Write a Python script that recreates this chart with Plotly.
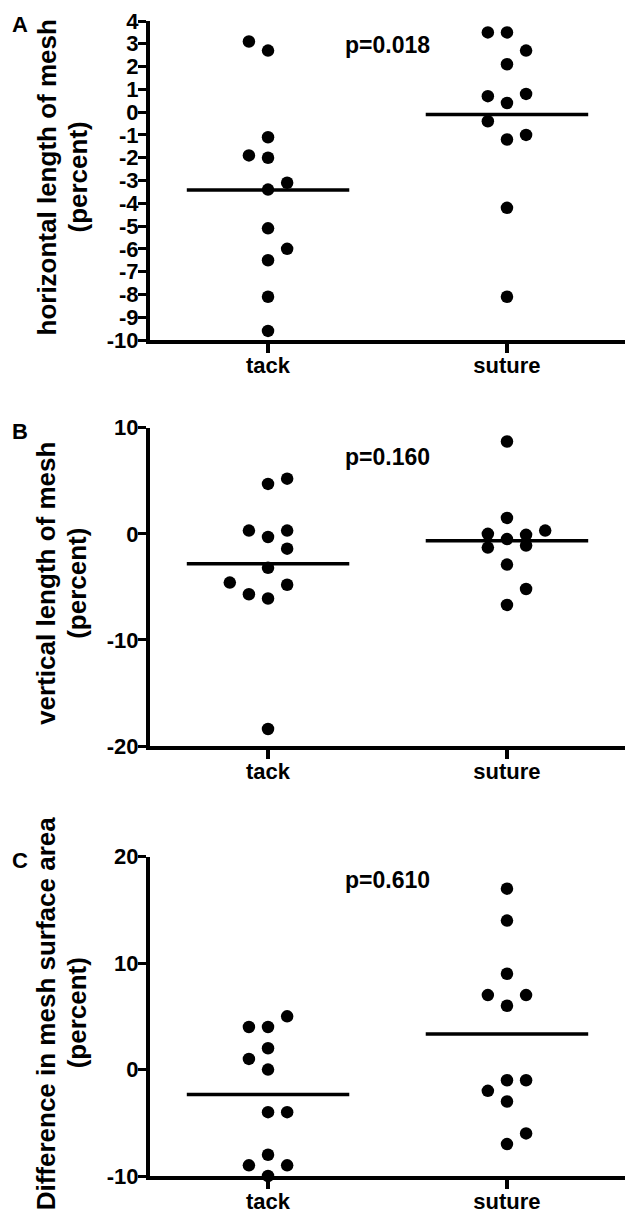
import plotly.graph_objects as go
import numpy as np

# ---------------- data ----------------
categories = ["tack", "suture"]

# Panel A: horizontal length of mesh (percent)
horiz_tack = [3.1, 2.7, -1.1, -1.9, -2.0, -3.1, -3.4, -5.1, -6.0, -6.5, -8.1, -9.6]
horiz_tack_slot = [-1, 0, 0, -1, 0, 1, 0, 0, 1, 0, 0, 0]
horiz_suture = [3.5, 3.5, 2.7, 2.1, 0.7, 0.8, 0.4, -0.4, -1.0, -1.2, -4.2, -8.1]
horiz_suture_slot = [-1, 0, 1, 0, -1, 1, 0, -1, 1, 0, 0, 0]

# Panel B: vertical length of mesh (percent)
vert_tack = [4.7, 5.2, 0.3, 0.3, -0.3, -1.4, -3.2, -4.6, -4.8, -5.7, -6.1, -18.4]
vert_tack_slot = [0, 1, -1, 1, 0, 1, 0, -2, 1, -1, 0, 0]
vert_suture = [8.7, 1.5, 0.0, 0.3, -0.1, -0.5, -1.3, -1.1, -2.9, -5.2, -6.7]
vert_suture_slot = [0, 0, -1, 2, 1, 0, -1, 1, 0, 1, 0]

# Panel C: difference in mesh surface area (percent)
area_tack = [4, 4, 5, 2, 1, 0, -4, -4, -8, -9, -9, -10]
area_tack_slot = [-1, 0, 1, 0, -1, 0, 0, 1, 0, -1, 1, 0]
area_suture = [17, 14, 9, 7, 7, 6, -1, -1, -2, -3, -6, -7]
area_suture_slot = [0, 0, 0, -1, 1, 0, 0, 1, -1, 0, 1, 0]

p_labels = ["p=0.018", "p=0.160", "p=0.610"]
panel_letters = ["A", "B", "C"]
y_titles = ["horizontal length of mesh", "vertical length of mesh",
            "Difference in mesh surface area"]
y_subtitle = "(percent)"

# ---------------- layout config ----------------
W, H = 625, 1222
FONT = "Liberation Sans, Arial, sans-serif"
SLOT_W = 0.08
MEAN_HALF = 0.34

panels = [
    dict(tack=horiz_tack, ts=horiz_tack_slot, sut=horiz_suture, ss=horiz_suture_slot,
         top=21, bottom=340, yr=[-10, 4], ticks=list(range(-10, 5)), py=2.95),
    dict(tack=vert_tack, ts=vert_tack_slot, sut=vert_suture, ss=vert_suture_slot,
         top=427.7, bottom=746, yr=[-20, 10], ticks=[-20, -10, 0, 10], py=7.2),
    dict(tack=area_tack, ts=area_tack_slot, sut=area_suture, ss=area_suture_slot,
         top=856.7, bottom=1176, yr=[-10, 20], ticks=[-10, 0, 10, 20], py=17.8),
]

fig = go.Figure()
annotations = []
x_left_px = 150

for i, p in enumerate(panels):
    n = "" if i == 0 else str(i + 1)
    xa, ya = "x" + n, "y" + n
    for ci, (vals, slots) in enumerate([(p["tack"], p["ts"]), (p["sut"], p["ss"])]):
        xs = [ci + s * SLOT_W for s in slots]
        fig.add_trace(go.Scatter(
            x=xs, y=vals, mode="markers", xaxis=xa, yaxis=ya,
            marker=dict(color="black", size=12.5, line=dict(width=0)),
            cliponaxis=False, showlegend=False, hoverinfo="y"))
        m = float(np.mean(vals))
        fig.add_trace(go.Scatter(
            x=[ci - MEAN_HALF, ci + MEAN_HALF], y=[m, m], mode="lines",
            xaxis=xa, yaxis=ya, line=dict(color="black", width=3.5),
            showlegend=False, hoverinfo="skip"))

    dom = [1 - p["bottom"] / H, 1 - p["top"] / H]
    fig.layout["xaxis" + n] = dict(
        domain=[x_left_px / W, 1], range=[-0.494, 1.494], anchor=ya,
        tickmode="array", tickvals=[0, 1], ticktext=categories,
        ticks="outside", ticklen=9, tickwidth=4, tickcolor="black",
        ticklabelstandoff=-6,
        showline=True, linewidth=4, linecolor="black",
        showgrid=False, zeroline=False, automargin=False,
        tickfont=dict(family=FONT, size=22, color="black", weight="bold"))
    fig.layout["yaxis" + n] = dict(
        domain=dom, range=p["yr"], anchor=xa,
        tickmode="array", tickvals=p["ticks"], ticktext=[str(t) for t in p["ticks"]],
        ticks="outside", ticklen=8, tickwidth=3, tickcolor="black",
        ticklabelstandoff=-5,
        showline=True, linewidth=4, linecolor="black",
        showgrid=False, zeroline=False, automargin=False,
        tickfont=dict(family=FONT, size=22, color="black", weight="bold"))

    # p value
    annotations.append(dict(
        x=0.5, y=p["py"], xref=xa, yref=ya, text=p_labels[i], showarrow=False,
        xanchor="center", yanchor="middle",
        font=dict(family=FONT, size=23, color="black", weight="bold")))
    # panel letter
    annotations.append(dict(
        x=20 / W, y=1 - (p["top"] + 4) / H, xref="paper", yref="paper",
        text=panel_letters[i], showarrow=False, xanchor="center", yanchor="middle",
        font=dict(family=FONT, size=22, color="black", weight="bold")))
    # y titles
    ymid = 1 - ((p["top"] + p["bottom"]) / 2 - 3) / H
    annotations.append(dict(
        x=46 / W, y=ymid, xref="paper", yref="paper", text=y_titles[i],
        showarrow=False, textangle=-90, xanchor="center", yanchor="middle",
        font=dict(family=FONT, size=26, color="black", weight="bold")))
    annotations.append(dict(
        x=77 / W, y=ymid, xref="paper", yref="paper", text=y_subtitle,
        showarrow=False, textangle=-90, xanchor="center", yanchor="middle",
        font=dict(family=FONT, size=26, color="black", weight="bold")))

fig.update_layout(
    width=W, height=H, margin=dict(l=0, r=0, t=0, b=0),
    paper_bgcolor="white", plot_bgcolor="white",
    annotations=annotations, showlegend=False)

fig.write_html("out.html",
               config={"displayModeBar": False},
               post_script="document.body.style.margin='0px';"
                           "document.body.style.overflow='hidden';")
